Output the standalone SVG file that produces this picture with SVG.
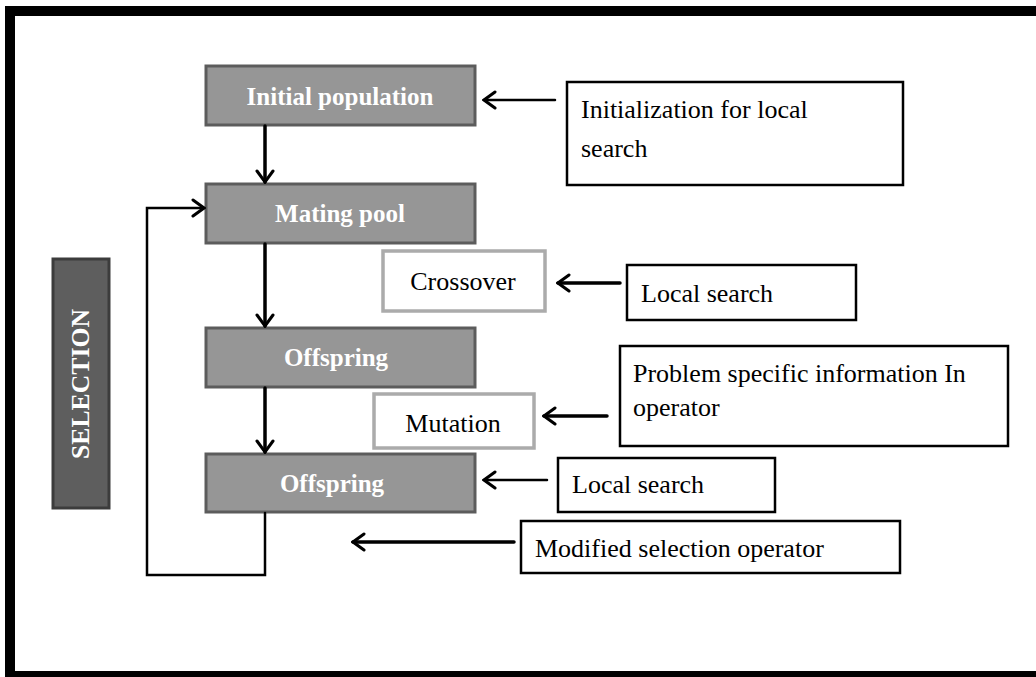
<svg xmlns="http://www.w3.org/2000/svg" width="1036" height="677" viewBox="0 0 1036 677">
<style>
.frame{fill:none;stroke:#000;stroke-width:10}
.dark{fill:#969696;stroke:#5c5c5c;stroke-width:3}
.sel{fill:#5e5e5e;stroke:#3c3c3c;stroke-width:3}
.light{fill:#fff;stroke:#ababab;stroke-width:3.5}
.note{fill:#fff;stroke:#000;stroke-width:2.5}
.wt{font-family:"Liberation Serif","Times New Roman",serif;font-weight:bold;font-size:25px;fill:#fff;text-anchor:middle}
.bt{font-family:"Liberation Serif","Times New Roman",serif;font-size:26px;fill:#000}
.c{fill:none;stroke:#000;stroke-linecap:round;stroke-linejoin:miter}
.thick{stroke-width:3.5}
.thin{stroke-width:2.5}
</style>
<defs>
<marker id="ah" markerUnits="userSpaceOnUse" viewBox="-14 -10 16 20" refX="0" refY="0" markerWidth="16" markerHeight="20" orient="auto">
<path d="M-11,-8 L0,0 L-11,8" fill="none" stroke="#000" stroke-width="3" stroke-linecap="round" stroke-linejoin="miter"/>
</marker>
</defs>
<rect width="1036" height="677" fill="#fff"/>
<rect class="frame" x="10" y="11" width="1100" height="665"/>

<g id="selection">
<rect class="sel" x="53" y="259" width="56" height="249"/>
<text class="wt" transform="translate(89,384) rotate(-90)" font-size="22" textLength="150" lengthAdjust="spacingAndGlyphs">SELECTION</text>
</g>

<g id="initial-population">
<rect class="dark" x="206" y="66" width="269" height="59"/>
<text class="wt" x="340" y="105">Initial population</text>
</g>
<g id="mating-pool">
<rect class="dark" x="206" y="184" width="269" height="59"/>
<text class="wt" x="340" y="222">Mating pool</text>
</g>
<g id="offspring-1">
<rect class="dark" x="206" y="328" width="269" height="59"/>
<text class="wt" x="336" y="366">Offspring</text>
</g>
<g id="offspring-2">
<rect class="dark" x="206" y="454" width="269" height="58"/>
<text class="wt" x="332" y="492">Offspring</text>
</g>

<g id="crossover">
<rect class="light" x="383" y="251" width="162" height="60"/>
<text class="bt" x="463" y="290" text-anchor="middle">Crossover</text>
</g>
<g id="mutation">
<rect class="light" x="374" y="394" width="160" height="54"/>
<text class="bt" x="453" y="432" text-anchor="middle">Mutation</text>
</g>

<g id="init-local-search">
<rect class="note" x="567" y="82" width="336" height="103"/>
<text class="bt" x="581" y="118">Initialization for local</text>
<text class="bt" x="581" y="157">search</text>
</g>
<g id="local-search-1">
<rect class="note" x="627" y="265" width="229" height="55"/>
<text class="bt" x="641" y="302">Local search</text>
</g>
<g id="problem-specific">
<rect class="note" x="620" y="346" width="388" height="100"/>
<text class="bt" x="633" y="382">Problem specific information In</text>
<text class="bt" x="633" y="416">operator</text>
</g>
<g id="local-search-2">
<rect class="note" x="558" y="458" width="217" height="54"/>
<text class="bt" x="572" y="493">Local search</text>
</g>
<g id="modified-selection">
<rect class="note" x="521" y="521" width="379" height="52"/>
<text class="bt" x="535" y="557">Modified selection operator</text>
</g>

<g id="connectors">
<path class="c thick" d="M265,126 V182" marker-end="url(#ah)"/>
<path class="c thick" d="M265,244 V326" marker-end="url(#ah)"/>
<path class="c thick" d="M265,388 V452" marker-end="url(#ah)"/>
<path class="c thin" d="M265,513 V575 H147 V208 H204" marker-end="url(#ah)"/>
<path class="c thin" d="M555,100 H484" marker-end="url(#ah)"/>
<path class="c thick" d="M620,283 H558" marker-end="url(#ah)"/>
<path class="c thick" d="M607,416 H544" marker-end="url(#ah)"/>
<path class="c thin" d="M547,480 H484" marker-end="url(#ah)"/>
<path class="c thick" d="M514,542 H353" marker-end="url(#ah)"/>
</g>
</svg>
